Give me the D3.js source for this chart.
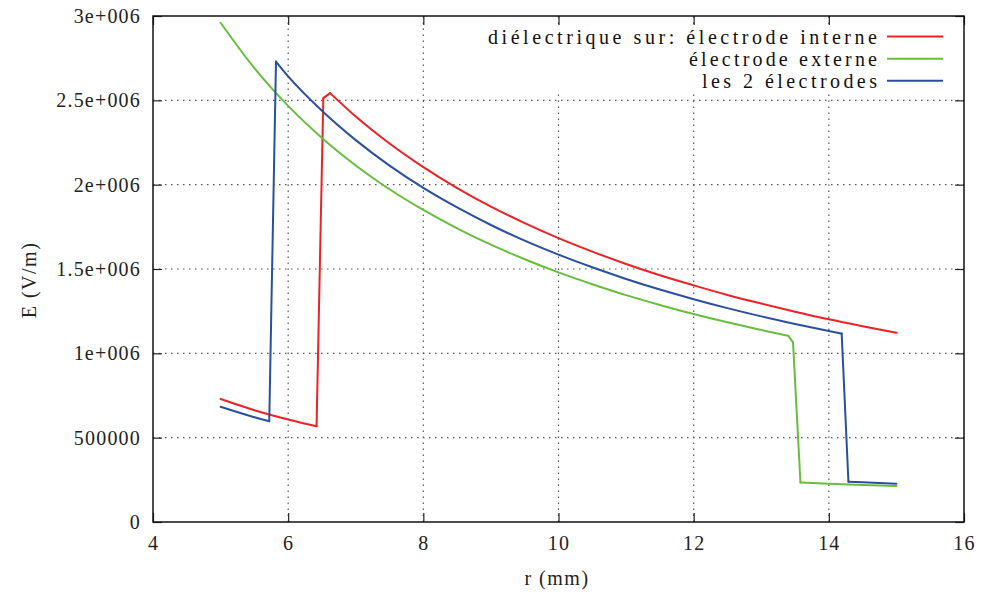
<!DOCTYPE html>
<html>
<head>
<meta charset="utf-8">
<script src="https://cdn.jsdelivr.net/npm/d3@7"></script>
<style>
  html, body { margin: 0; padding: 0; background: #fff; }
</style>
</head>
<body>
<svg id="chart" width="985" height="595" font-family="'Liberation Serif', 'Times New Roman', 'DejaVu Serif', serif"></svg>
<script>
// ---- data (r in mm, E in V/m) ----
const xTicks = [4, 6, 8, 10, 12, 14, 16];
const yTicks = [0, 500000, 1000000, 1500000, 2000000, 2500000, 3000000];
const yTickLabels = ["0", "500000", "1e+006", "1.5e+006", "2e+006", "2.5e+006", "3e+006"];
const seriesNames = ["diélectrique sur: électrode interne", "électrode externe", "les 2 électrodes"];
const seriesColors = ["#ec2227", "#68bd3f", "#2a4f9f"];

const rInterne = [5, 5.5, 6, 6.42, 6.52, 6.62, 7, 7.5, 8, 8.5, 9, 9.5, 10, 10.5, 11, 11.5, 12, 12.5, 13, 13.5, 14, 14.5, 15];
const eInterne = [729000, 663000, 608000, 568000, 2513000, 2543000, 2404000, 2244000, 2104000, 1980000, 1870000, 1772000, 1683000, 1603000, 1530000, 1463000, 1403000, 1346000, 1295000, 1247000, 1202000, 1161000, 1122000];

const rExterne = [5, 5.5, 6, 6.5, 7, 7.5, 8, 8.5, 9, 9.5, 10, 10.5, 11, 11.5, 12, 12.5, 13, 13.4, 13.47, 13.58, 14, 14.5, 15];
const eExterne = [2960000, 2691000, 2467000, 2277000, 2114000, 1973000, 1850000, 1741000, 1644000, 1558000, 1480000, 1410000, 1345000, 1287000, 1233000, 1184000, 1138000, 1104000, 1065000, 234000, 227000, 220000, 214000];

const rDeux = [5, 5.5, 5.72, 5.82, 6, 6.5, 7, 7.5, 8, 8.5, 9, 9.5, 10, 10.5, 11, 11.5, 12, 12.5, 13, 13.5, 14, 14.19, 14.29, 14.5, 15];
const eDeux = [683000, 621000, 597000, 2730000, 2642000, 2438000, 2264000, 2113000, 1981000, 1865000, 1761000, 1668000, 1585000, 1510000, 1441000, 1378000, 1321000, 1268000, 1219000, 1174000, 1132000, 1117000, 239000, 235000, 227000];

const series = [
  { name: seriesNames[0], color: seriesColors[0], r: rInterne, e: eInterne },
  { name: seriesNames[1], color: seriesColors[1], r: rExterne, e: eExterne },
  { name: seriesNames[2], color: seriesColors[2], r: rDeux, e: eDeux }
];

// ---- layout ----
const FONT = "'Liberation Serif', 'Times New Roman', 'DejaVu Serif', serif";
const L = 153, R = 964, T = 16, B = 522;
const svg = d3.select("#chart");
const x = d3.scaleLinear().domain([4, 16]).range([L, R]);
const y = d3.scaleLinear().domain([0, 3000000]).range([B, T]);

// grid
const grid = svg.append("g");
grid.selectAll("line.gx").data(xTicks.slice(1, -1)).enter().append("line")
  .attr("x1", d => x(d)).attr("x2", d => x(d)).attr("y1", B).attr("y2", T)
  .attr("stroke", "#555").attr("stroke-width", 1.2).attr("stroke-dasharray", "1.5,4.5");
grid.selectAll("line.gy").data(yTicks.slice(1, -1)).enter().append("line")
  .attr("x1", L).attr("x2", R).attr("y1", d => y(d)).attr("y2", d => y(d))
  .attr("stroke", "#555").attr("stroke-width", 1.2).attr("stroke-dasharray", "1.5,4.5");

// legend background (hides grid behind the key)
svg.append("rect").attr("x", 482).attr("y", 25).attr("width", 472).attr("height", 67).attr("fill", "#fff");

// axes with inward ticks, mirrored
const tickLen = 9;
const axB = svg.append("g").attr("transform", `translate(0,${B})`)
  .call(d3.axisBottom(x).tickValues(xTicks).tickSize(-tickLen).tickPadding(14).tickFormat(d3.format("d")));
const axT = svg.append("g").attr("transform", `translate(0,${T})`)
  .call(d3.axisTop(x).tickValues(xTicks).tickSize(-tickLen).tickFormat(""));
const axL = svg.append("g").attr("transform", `translate(${L},0)`)
  .call(d3.axisLeft(y).tickValues(yTicks).tickSize(-tickLen).tickPadding(12).tickFormat((d, i) => yTickLabels[i]));
const axR = svg.append("g").attr("transform", `translate(${R},0)`)
  .call(d3.axisRight(y).tickValues(yTicks).tickSize(-tickLen).tickFormat(""));
[axB, axT, axL, axR].forEach(a => {
  a.attr("font-family", FONT).attr("font-size", 20);
  a.select(".domain").remove();
  a.selectAll(".tick line").attr("stroke", "#222").attr("stroke-width", 1.2);
  a.selectAll("text").attr("font-family", FONT).attr("font-size", 20).attr("letter-spacing", "1.2px").attr("fill", "#222");
});
axB.selectAll("text").attr("dy", "0.71em");

// frame
svg.append("rect").attr("x", L).attr("y", T).attr("width", R - L).attr("height", B - T)
  .attr("fill", "none").attr("stroke", "#111").attr("stroke-width", 1.5);

// series lines: smooth within continuous runs, straight across jumps / kinks
const smooth = d3.line().x(d => x(d[0])).y(d => y(d[1])).curve(d3.curveMonotoneX);
const straight = d3.line().x(d => x(d[0])).y(d => y(d[1]));
series.forEach(s => {
  const pts = s.r.map((r, i) => [r, s.e[i]]);
  const slope = i => (pts[i][1] - pts[i - 1][1]) / (pts[i][0] - pts[i - 1][0]);
  const pieces = [];
  let run = [pts[0]];
  for (let i = 1; i < pts.length; i++) {
    const s1 = slope(i);
    const s0 = i > 1 ? slope(i - 1) : s1;
    const kink = Math.sign(s0) !== Math.sign(s1) || Math.abs(s1) / Math.abs(s0) > 2.5 || Math.abs(s0) / Math.abs(s1) > 2.5;
    if (kink && run.length > 1) { pieces.push({ pts: run, curve: true }); run = [pts[i - 1]]; }
    const nextS = i + 1 < pts.length ? slope(i + 1) : s1;
    const nextKink = Math.sign(nextS) !== Math.sign(s1) || Math.abs(nextS) / Math.abs(s1) > 2.5 || Math.abs(s1) / Math.abs(nextS) > 2.5;
    if (kink && nextKink) { pieces.push({ pts: [pts[i - 1], pts[i]], curve: false }); run = [pts[i]]; continue; }
    run.push(pts[i]);
  }
  if (run.length > 1) pieces.push({ pts: run, curve: true });
  pieces.forEach(p => {
    svg.append("path").datum(p.pts).attr("d", p.curve ? smooth : straight)
      .attr("fill", "none").attr("stroke", s.color).attr("stroke-width", 2)
      .attr("stroke-linejoin", "miter").attr("stroke-linecap", "round");
  });
});

// legend
const legY = [36.5, 58.7, 80.7];
const legW = [389, 188, 175];
series.forEach((s, i) => {
  svg.append("text").attr("x", 877).attr("y", legY[i]).attr("dy", "0.35em")
    .attr("text-anchor", "end").attr("font-family", FONT).attr("font-size", 20)
    .attr("textLength", legW[i]).attr("lengthAdjust", "spacing")
    .attr("fill", "#111").text(s.name);
  svg.append("line").attr("x1", 887).attr("x2", 943).attr("y1", legY[i]).attr("y2", legY[i])
    .attr("stroke", s.color).attr("stroke-width", 2);
});

// axis titles
svg.append("text").attr("x", 557).attr("y", 585).attr("text-anchor", "middle").attr("font-family", FONT)
  .attr("font-size", 20).attr("letter-spacing", "1.5px").attr("fill", "#222").text("r (mm)");
svg.append("text").attr("transform", "translate(36,280) rotate(-90)").attr("text-anchor", "middle").attr("font-family", FONT)
  .attr("font-size", 20).attr("letter-spacing", "1.5px").attr("fill", "#222").text("E (V/m)");
</script>
</body>
</html>
